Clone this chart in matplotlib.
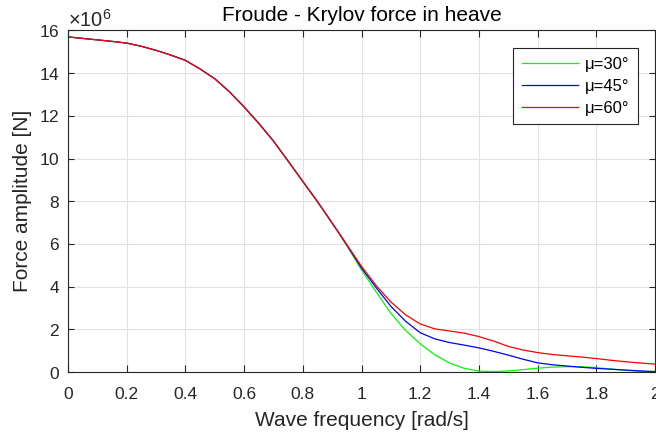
import numpy as np
import matplotlib
matplotlib.use("Agg")
import matplotlib.pyplot as plt
from matplotlib.ticker import ScalarFormatter, FuncFormatter

plt.rcParams['font.family'] = ['Liberation Sans', 'DejaVu Sans']
plt.rcParams['mathtext.fontset'] = 'custom'
plt.rcParams['mathtext.rm'] = 'Liberation Sans'
plt.rcParams['mathtext.it'] = 'Liberation Sans:italic'

# wave frequency [rad/s]
freq = [0.00, 0.05, 0.10, 0.15, 0.20, 0.25, 0.30, 0.35, 0.40, 0.45,
        0.50, 0.55, 0.60, 0.65, 0.70, 0.75, 0.80, 0.85, 0.90, 0.95,
        1.00, 1.05, 1.10, 1.15, 1.20, 1.25, 1.30, 1.35, 1.40, 1.45,
        1.50, 1.55, 1.60, 1.65, 1.70, 1.75, 1.80, 1.85, 1.90, 1.95, 2.00]

# Froude-Krylov heave force amplitude, in 1e6 N, for each heading mu
force_30 = [15.70, 15.63, 15.56, 15.49, 15.41, 15.26, 15.07, 14.85, 14.60, 14.20,
            13.74, 13.13, 12.42, 11.65, 10.82, 9.88, 8.93, 7.98, 6.98, 5.92,
            4.78, 3.75, 2.75, 1.95, 1.32, 0.80, 0.42, 0.17, 0.04, 0.02,
            0.05, 0.11, 0.18, 0.23, 0.25, 0.25, 0.20, 0.14, 0.08, 0.03, 0.00]
force_45 = [15.70, 15.63, 15.56, 15.49, 15.41, 15.26, 15.07, 14.85, 14.60, 14.20,
            13.74, 13.13, 12.42, 11.65, 10.82, 9.88, 8.93, 7.98, 6.98, 5.95,
            4.87, 3.95, 3.08, 2.38, 1.84, 1.55, 1.38, 1.26, 1.13, 0.97,
            0.79, 0.60, 0.43, 0.34, 0.28, 0.22, 0.17, 0.13, 0.09, 0.05, 0.02]
force_60 = [15.70, 15.63, 15.56, 15.49, 15.41, 15.26, 15.07, 14.85, 14.60, 14.20,
            13.74, 13.13, 12.42, 11.65, 10.82, 9.88, 8.93, 7.98, 6.98, 5.97,
            4.95, 4.05, 3.28, 2.68, 2.25, 2.02, 1.92, 1.82, 1.66, 1.45,
            1.20, 1.03, 0.91, 0.82, 0.76, 0.70, 0.63, 0.55, 0.48, 0.42, 0.37]

labels = ['μ=30°', 'μ=45°', 'μ=60°']
colors = ['#00ff00', '#0000ff', '#ff0000']

dark = '#262626'

fig = plt.figure(figsize=(6.56, 4.36), dpi=100)
ax = fig.add_axes([68 / 656, 1 - 372 / 436, 587 / 656, 341.5 / 436])

for vals, lab, col in zip([force_30, force_45, force_60], labels, colors):
    ax.plot(freq, np.array(vals) * 1e6, color=col, lw=0.9, label=lab)

ax.set_xlim(0, 2)
ax.set_ylim(0, 16e6)
ax.set_xticks(np.arange(0, 2.01, 0.2))
ax.set_yticks(np.arange(0, 16.1e6, 2e6))
ax.xaxis.set_major_formatter(FuncFormatter(lambda v, p: '%g' % round(v, 2)))
fmt = ScalarFormatter(useMathText=True)
fmt.set_powerlimits((6, 6))
ax.yaxis.set_major_formatter(fmt)

ax.grid(True, color='#e2e2e2', lw=0.8)
ax.set_axisbelow(True)
for s in ax.spines.values():
    s.set_color(dark)
    s.set_linewidth(0.8)
ax.tick_params(axis='both', direction='in', top=True, right=True,
               colors=dark, labelsize=12.5, width=0.8)
ax.tick_params(axis='x', length=5, pad=10.5)
ax.tick_params(axis='y', length=4.2, pad=6)
ax.yaxis.get_offset_text().set_fontsize(14.5)
ax.yaxis.get_offset_text().set_color(dark)

ax.set_xlabel('Wave frequency [rad/s]', fontsize=15, color=dark, labelpad=7)
ax.set_ylabel('Force amplitude [N]', fontsize=15, color=dark, labelpad=5)
ax.set_title('Froude - Krylov force in heave', fontsize=15, color='black', pad=6.5)

leg = ax.legend(loc='upper right', bbox_to_anchor=((637.7 - 68) / 587, (372 - 48.3) / 341.5),
                borderaxespad=0, fontsize=12, fancybox=False, framealpha=1,
                edgecolor=dark, handlelength=3.4, handletextpad=0.4,
                labelspacing=0.42, borderpad=0.5)
leg.get_frame().set_linewidth(0.8)

fig.savefig('out.png', dpi=100)
